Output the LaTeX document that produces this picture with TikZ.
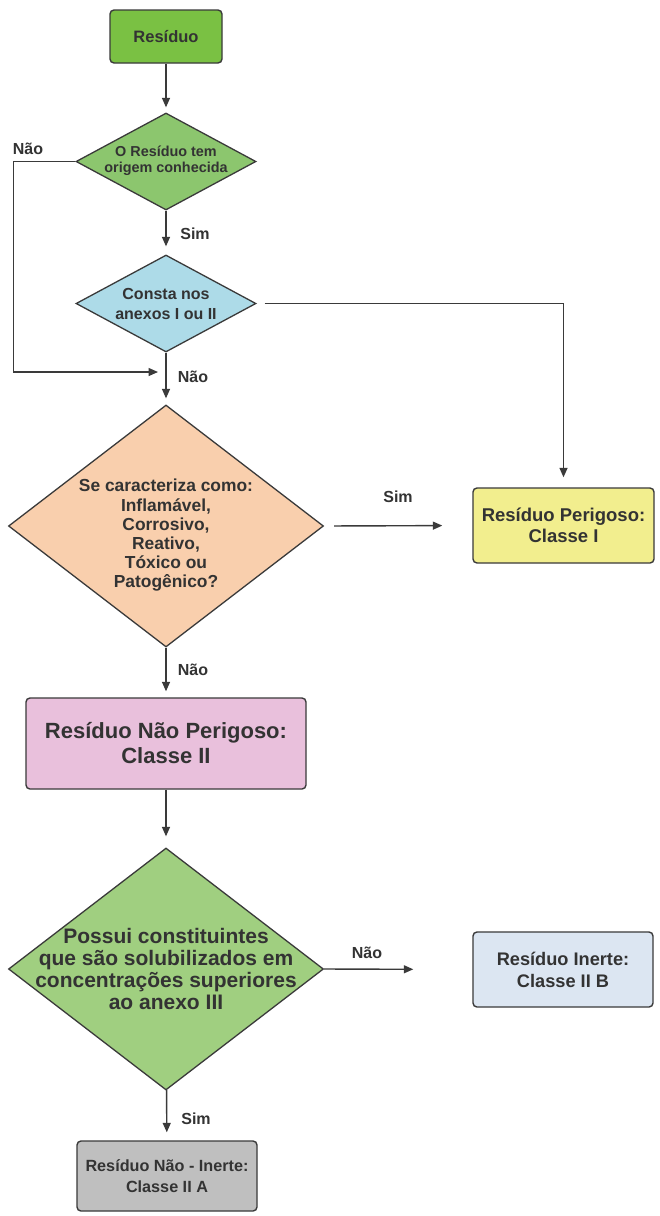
\documentclass[tikz,border=0pt]{standalone}
\usepackage{fontspec}
\setmainfont{Liberation Sans}
\usetikzlibrary{shapes.geometric,arrows.meta}
\definecolor{lc}{HTML}{3A3A3A}
\definecolor{tc}{HTML}{333333}
\definecolor{cStart}{HTML}{7AC143}
\definecolor{cDOne}{HTML}{8CC66E}
\definecolor{cDTwo}{HTML}{ADDBE8}
\definecolor{cDThree}{HTML}{F9CFAD}
\definecolor{cPer}{HTML}{F2EE8E}
\definecolor{cNPer}{HTML}{E9C0DC}
\definecolor{cDFour}{HTML}{A0CF80}
\definecolor{cIn}{HTML}{DCE6F2}
\definecolor{cNIn}{HTML}{BFBFBF}
\newcommand\fsz[2]{\fontsize{#1}{#2}\selectfont\bfseries}
\tikzset{
  boxnode/.style={draw=lc, line width=1.4pt, rounded corners=4pt, inner sep=0pt},
  dianode/.style={draw=lc, line width=1.3pt, shape=diamond, inner sep=0pt},
  txt/.style={text=tc, align=center, inner sep=0pt},
  lbl/.style={text=tc, inner sep=0pt, font=\fsz{16}{18}},
  arr/.style={draw=lc, line width=1.4pt, -{Triangle[length=9.5pt,width=8pt]}}
}
\begin{document}
\begin{tikzpicture}[x=1pt,y=-1pt]
\useasboundingbox[fill=white] (0,0) rectangle (659,1216);
% shapes
\node[boxnode, fill=cStart, minimum width=112pt, minimum height=53pt] (r1) at (166,36.5) {};
\node[txt, font=\fsz{16.5}{19}] (t1) at (r1) {Resíduo};
\node[dianode, fill=cDOne, minimum width=180pt, minimum height=97pt] (d1) at (166,161.5) {};
\node[txt, font=\fsz{14.4}{16.5}] (t2) at (166,160.5) {O Resíduo tem\\origem conhecida};
\node[dianode, fill=cDTwo, minimum width=180pt, minimum height=97pt] (d2) at (166,303.5) {};
\node[txt, font=\fsz{16}{20}] (t3) at (d2) {Consta nos\\anexos I ou II};
\node[dianode, fill=cDThree, minimum width=315pt, minimum height=242pt] (d3) at (166,526) {};
\node[txt, font=\fsz{17.4}{19.2}] (t4) at (166,535.5) {Se caracteriza como:\\Inflamável,\\Corrosivo,\\Reativo,\\Tóxico ou\\Patogênico?};
\node[boxnode, fill=cPer, minimum width=181pt, minimum height=75pt] (b1) at (563.5,525.5) {};
\node[txt, font=\fsz{18.5}{20.5}] (t5) at (b1) {Resíduo Perigoso:\\Classe I};
\node[boxnode, fill=cNPer, minimum width=280pt, minimum height=91pt] (b2) at (166,743.5) {};
\node[txt, font=\fsz{22}{25}] (t6) at (b2) {Resíduo Não Perigoso:\\Classe II};
\node[dianode, fill=cDFour, minimum width=315pt, minimum height=242pt] (d4) at (166,969) {};
\node[txt, font=\fsz{21}{21.7}] (t7) at (d4) {Possui constituintes\\que são solubilizados em\\concentrações superiores\\ao anexo III};
\node[boxnode, fill=cIn, minimum width=180pt, minimum height=75pt] (b3) at (563,969.5) {};
\node[txt, font=\fsz{18.2}{22}] (t8) at (b3) {Resíduo Inerte:\\Classe II B};
\node[boxnode, fill=cNIn, minimum width=180pt, minimum height=70pt] (b4) at (167,1176) {};
\node[txt, font=\fsz{16.2}{21}] (t9) at (b4) {Resíduo Não - Inerte:\\Classe II A};
% connectors
\coordinate (lp) at (158,372);
\draw[arr, shorten >=5pt] (r1) -- (d1);
\draw[arr, shorten >=8pt] (d1) -- (d2);
\draw[arr, shorten >=6pt] (d2) -- (d3);
\draw[arr] (d1.west) -- ++(-62,0) |- (lp);
\draw[arr, shorten <=8pt, shorten >=10pt] (d2.east) -| (b1.north);
\draw[arr, shorten <=10pt, shorten >=30pt] (d3.east) -- (b1.west);
\draw[arr, shorten >=6pt] (d3) -- (b2);
\draw[arr, shorten >=11pt] (b2) -- (d4);
\draw[arr, shorten >=59pt] (d4.east) -- (b3.west);
\draw[arr, shorten >=8pt] (d4) -- (b4);
% labels
\node[lbl] (l1) at (28,149) {Não};
\node[lbl] (l2) at (195,234) {Sim};
\node[lbl] (l3) at (193,377) {Não};
\node[lbl] (l4) at (398,497) {Sim};
\node[lbl] (l5) at (193,670) {Não};
\node[lbl] (l6) at (367,953) {Não};
\node[lbl] (l7) at (196,1119) {Sim};
\end{tikzpicture}
\end{document}
